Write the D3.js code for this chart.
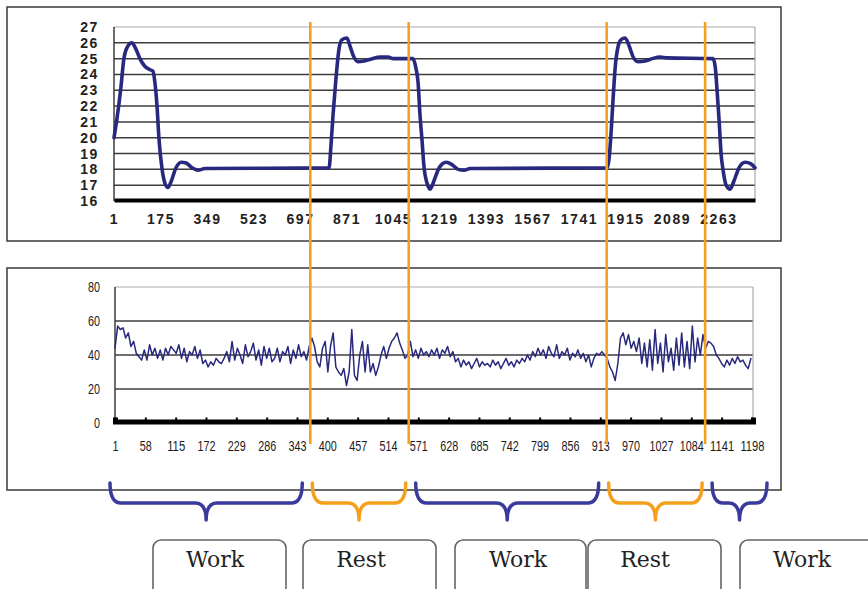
<!DOCTYPE html>
<html>
<head>
<meta charset="utf-8">
<script src="https://cdn.jsdelivr.net/npm/d3@7"></script>
<style>
    body { margin: 0; background: #fff; }
    svg { display: block; }
    .top-tick text { font-family: "Liberation Sans", Arial, sans-serif; font-weight: bold; font-size: 14px; letter-spacing: 1.6px; fill: #222; }
    .bot-tick text { font-family: "Liberation Sans", Arial, sans-serif; font-size: 15px; fill: #1a1a1a; }
</style>
</head>
<body>
<div id="chart"></div>
<script>
// temperature trace (upper panel)
const tempIndex = [1, 12, 27, 38, 53, 68, 83, 98, 117, 136, 147, 154, 162, 169, 181, 192, 203, 214,
    233, 252, 271, 293, 315, 342, 806, 813, 821, 832, 843, 854, 873, 884, 899, 914, 937, 967, 997,
    1027, 1046, 1120, 1131, 1139, 1146, 1154, 1161, 1173, 1184, 1199, 1218, 1244, 1266, 1289, 1311,
    1334, 1847, 1854, 1862, 1869, 1877, 1888, 1899, 1914, 1929, 1944, 1962, 1989, 2015, 2045, 2071,
    2243, 2251, 2258, 2266, 2273, 2281, 2292, 2307, 2322, 2340, 2363, 2385, 2400];
const tempValues = [20.0, 21.2, 23.2, 25.0, 25.8, 26.0, 25.6, 25.0, 24.5, 24.3, 24.2, 23.5, 22.0, 20.0,
    18.0, 17.1, 16.85, 17.2, 18.1, 18.45, 18.4, 18.1, 17.95, 18.05, 18.1, 19.5, 21.5, 23.8, 25.6, 26.2,
    26.3, 25.8, 25.1, 24.8, 24.85, 25.0, 25.1, 25.1, 25.0, 25.0, 24.4, 23.5, 21.5, 19.8, 18.2, 17.1,
    16.75, 17.3, 18.1, 18.45, 18.3, 18.0, 17.95, 18.05, 18.1, 18.7, 20.5, 22.5, 24.5, 25.8, 26.2, 26.3,
    25.8, 25.1, 24.8, 24.85, 25.0, 25.1, 25.05, 25.0, 24.5, 23.0, 21.0, 19.0, 17.9, 17.0, 16.75, 17.3,
    18.1, 18.45, 18.35, 18.1];
const tempXTicks = [1, 175, 349, 523, 697, 871, 1045, 1219, 1393, 1567, 1741, 1915, 2089, 2263];
const tempYTicks = [16, 17, 18, 19, 20, 21, 22, 23, 24, 25, 26, 27];

// emg trace (lower panel), one reading every 5 samples
const emgStep = 5;
const emgValues = [
    44, 57, 55, 56, 50, 53, 45, 48, 41, 39, 37, 43, 37, 46, 40, 44, 38, 43, 37, 44,
    40, 45, 43, 41, 46, 38, 44, 36, 42, 40, 45, 38, 43, 35, 37, 33, 36, 34, 38, 36,
    35, 38, 42, 36, 48, 37, 44, 40, 35, 46, 39, 42, 47, 37, 43, 34, 45, 38, 44, 36,
    38, 44, 36, 42, 40, 45, 35, 43, 38, 46, 39, 42, 37, 45, 50, 45, 36, 33, 44, 48,
    30, 45, 53, 33, 30, 28, 32, 22, 30, 55, 28, 25, 40, 48, 30, 46, 30, 35, 28, 33,
    40, 45, 38, 44, 48, 50, 53, 47, 43, 38, 40, 48, 39, 43, 38, 44, 40, 42, 39, 43,
    40, 44, 38, 43, 41, 45, 39, 42, 36, 38, 33, 37, 34, 36, 32, 35, 38, 33, 36, 34,
    35, 33, 37, 34, 36, 32, 35, 38, 34, 36, 33, 37, 35, 38, 36, 40, 37, 42, 39, 44,
    40, 43, 38, 45, 41, 39, 46, 38, 42, 40, 44, 37, 41, 39, 43, 38, 41, 36, 40, 33,
    38, 41, 40, 42, 40, 38, 33, 30, 25, 35, 50, 53, 46, 52, 44, 48, 42, 50, 35, 47,
    33, 49, 31, 55, 35, 47, 30, 52, 36, 44, 31, 50, 34, 53, 33, 48, 32, 57, 36, 50,
    40, 52, 44, 48, 47, 45, 40, 38, 35, 33, 37, 34, 38, 35, 39, 36, 37, 34, 32, 38
];
const emgXTicks = [1, 58, 115, 172, 229, 286, 343, 400, 457, 514, 571, 628, 685, 742, 799, 856, 913, 970, 1027, 1084, 1141, 1198];
const emgYTicks = [0, 20, 40, 60, 80];

// phase changes, in emg samples
const phaseBounds = [368, 553, 925, 1110];
const phaseLabels = ["Work", "Rest", "Work", "Rest", "Work"];

// label boxes under the braces (layout only)
const boxLayout = [
    {x: 153, w: 133, tx: 215},
    {x: 303, w: 133, tx: 361},
    {x: 455, w: 131, tx: 518},
    {x: 588, w: 133, tx: 645},
    {x: 740, w: 140, tx: 802}
];

const navy = "#28287f";
const orange = "#f5a01c";
const braceBlue = "#3a3a9c";

function LineChart(svg, cfg) {
    let vis = this;
    vis.svg = svg;
    vis.cfg = cfg;
    vis.initVis();
}

LineChart.prototype.initVis = function() {
    let vis = this;
    let c = vis.cfg;

    vis.svg.append("rect")
        .attr("x", c.box[0]).attr("y", c.box[1])
        .attr("width", c.box[2]).attr("height", c.box[3])
        .attr("fill", "#fff")
        .attr("stroke", "#3a3a3a")
        .attr("stroke-width", 1.5);

    vis.x = d3.scaleLinear().domain(c.xDomain).range([c.left, c.right]);
    vis.y = d3.scaleLinear().domain(c.yDomain).range([c.bottom, c.top]);

    vis.g = vis.svg.append("g");

    // grid
    vis.g.selectAll("line.grid")
        .data(c.yTicks.filter(d => d > c.yDomain[0]))
        .enter().append("line")
        .attr("class", "grid")
        .attr("x1", c.left).attr("x2", c.right)
        .attr("y1", d => vis.y(d)).attr("y2", d => vis.y(d))
        .attr("stroke", d => d == c.yDomain[1] ? "#aaa" : "#3c3c3c")
        .attr("stroke-width", d => d == c.yDomain[1] ? 1.2 : 1.5);

    vis.g.append("line")
        .attr("x1", c.right).attr("x2", c.right)
        .attr("y1", c.top).attr("y2", c.bottom)
        .attr("stroke", "#aaa").attr("stroke-width", 1.2);

    vis.g.append("line")
        .attr("x1", c.left).attr("x2", c.left)
        .attr("y1", c.top).attr("y2", c.bottom)
        .attr("stroke", "#3c3c3c").attr("stroke-width", 1.5);

    vis.wrangleData();
};

LineChart.prototype.wrangleData = function() {
    let vis = this;
    vis.points = vis.cfg.values.map((v, i) => ({i: vis.cfg.index[i], v: v}));
    vis.updateVis();
};

LineChart.prototype.updateVis = function() {
    let vis = this;
    let c = vis.cfg;

    vis.line = d3.line()
        .x(d => vis.x(d.i))
        .y(d => vis.y(d.v))
        .curve(c.curve);

    vis.g.append("path")
        .datum(vis.points)
        .attr("d", vis.line)
        .attr("fill", "none")
        .attr("stroke", navy)
        .attr("stroke-width", c.lineWidth)
        .attr("stroke-linejoin", "round")
        .attr("stroke-linecap", "round");

    // x axis: thick base line with labels
    let xAxis = d3.axisBottom(vis.x)
        .tickValues(c.xTicks)
        .tickFormat(d3.format("d"))
        .tickSize(c.xTickSize)
        .tickPadding(c.xPad);

    let xg = vis.g.append("g")
        .attr("class", c.cls)
        .attr("transform", "translate(0," + (c.bottom - c.baseWidth / 2 + 1) + ")")
        .call(xAxis);
    xg.select(".domain")
        .attr("stroke", "#000")
        .attr("stroke-width", c.baseWidth);
    xg.selectAll(".tick line")
        .attr("stroke", "#000")
        .attr("stroke-width", 2);
    if (c.charW) {
        // squeeze labels to the narrow face of the original
        xg.selectAll(".tick text")
            .attr("textLength", d => String(d).length * c.charW)
            .attr("lengthAdjust", "spacingAndGlyphs");
    }

    let yAxis = d3.axisLeft(vis.y)
        .tickValues(c.yTicks)
        .tickFormat(d3.format("d"))
        .tickSize(0)
        .tickPadding(c.yPad);

    let yg = vis.g.append("g")
        .attr("class", c.cls)
        .attr("transform", "translate(" + c.left + ",0)")
        .call(yAxis);
    yg.select(".domain").remove();
    if (c.charW) {
        yg.selectAll(".tick text")
            .attr("textLength", d => String(d).length * c.charW)
            .attr("lengthAdjust", "spacingAndGlyphs");
    }
};

let svg = d3.select("#chart").append("svg")
    .attr("width", 868)
    .attr("height", 589);

let tempChart = new LineChart(svg, {
    box: [7, 7, 774, 234],
    left: 114, right: 755, top: 27, bottom: 201,
    xDomain: [1, 2400], yDomain: [16, 27],
    index: tempIndex, values: tempValues,
    xTicks: tempXTicks, yTicks: tempYTicks,
    curve: d3.curveMonotoneX, lineWidth: 3.6,
    baseWidth: 4, xTickSize: 0, xPad: 14, yPad: 15,
    cls: "top-tick"
});

let emgChart = new LineChart(svg, {
    box: [7, 268, 774, 222],
    left: 115, right: 753, top: 287, bottom: 423,
    xDomain: [1, 1200], yDomain: [0, 80],
    index: emgValues.map((v, i) => 1 + i * emgStep), values: emgValues,
    xTicks: emgXTicks, yTicks: emgYTicks,
    curve: d3.curveLinear, lineWidth: 1.5,
    baseWidth: 5, xTickSize: -4, xPad: 19, yPad: 15,
    charW: 6,
    cls: "bot-tick"
});

// orange phase markers through both panels
let ex = emgChart.x;
svg.append("g").selectAll("line")
    .data(phaseBounds)
    .enter().append("line")
    .attr("x1", d => ex(d)).attr("x2", d => ex(d))
    .attr("y1", 22).attr("y2", 444)
    .attr("stroke", orange)
    .attr("stroke-width", 2.6);

// braces
let edges = [ex.range()[0] - 5].concat(phaseBounds.map(ex), [ex.range()[1] + 14]);
let braces = phaseLabels.map(function(lab, i) {
    let rest = lab == "Rest";
    let pad = rest ? 2 : 7;
    return {
        label: lab,
        x0: edges[i] + (i == 0 ? 0 : pad),
        x1: edges[i + 1] - (i == phaseLabels.length - 1 ? 0 : (rest ? 3 : 8)),
        color: rest ? orange : braceBlue
    };
});

function bracePath(b) {
    let top = 483, mid = 503, tip = 520;
    let m = (b.x0 + b.x1) / 2;
    let r = Math.min(11, (b.x1 - b.x0) / 5);
    return "M" + b.x0 + "," + top +
        " Q" + b.x0 + "," + mid + " " + (b.x0 + r) + "," + mid +
        " L" + (m - r) + "," + mid +
        " Q" + m + "," + mid + " " + m + "," + tip +
        " Q" + m + "," + mid + " " + (m + r) + "," + mid +
        " L" + (b.x1 - r) + "," + mid +
        " Q" + b.x1 + "," + mid + " " + b.x1 + "," + top;
}

svg.append("g").selectAll("path")
    .data(braces)
    .enter().append("path")
    .attr("d", bracePath)
    .attr("fill", "none")
    .attr("stroke", d => d.color)
    .attr("stroke-width", 3.5)
    .attr("stroke-linecap", "round")
    .attr("stroke-linejoin", "round");

// label boxes
let boxes = svg.append("g").selectAll("g")
    .data(phaseLabels.map((l, i) => ({label: l, b: boxLayout[i]})))
    .enter().append("g");

boxes.append("rect")
    .attr("x", d => d.b.x).attr("y", 540)
    .attr("width", d => d.b.w).attr("height", 70)
    .attr("rx", 8)
    .attr("fill", "#fff")
    .attr("stroke", "#666")
    .attr("stroke-width", 1.6);

boxes.append("text")
    .attr("x", d => d.b.tx).attr("y", 567)
    .attr("text-anchor", "middle")
    .style("font-family", "'DejaVu Serif', serif")
    .style("font-size", "22px")
    .style("fill", "#222")
    .text(d => d.label);
</script>
</body>
</html>
